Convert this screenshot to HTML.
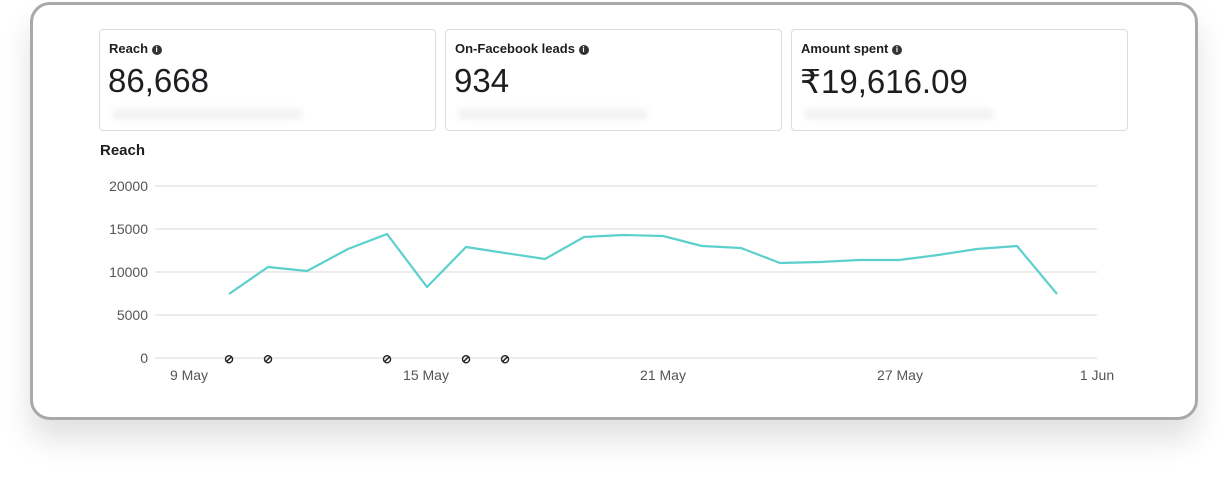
<!DOCTYPE html>
<html><head><style>
body{margin:0;width:1227px;height:479px;background:#fff;font-family:"Liberation Sans",sans-serif;position:relative;overflow:hidden}
.outer{position:absolute;left:30px;top:2px;width:1162px;height:412px;border:3px solid #a9a9a9;border-radius:20px;background:#fff;box-shadow:0 20px 30px rgba(0,0,0,0.12)}
.card{position:absolute;top:29px;width:335px;height:100px;border:1px solid #dcdcdc;border-radius:4px;background:#fff}
.card .t{position:absolute;left:9px;top:11px;font-size:13px;font-weight:bold;color:#1c1e21}
.card .v{position:absolute;left:8px;top:32px;font-size:33px;color:#1c1e21}
.card .b{position:absolute;left:12px;top:78px;width:190px;height:12px;background:#f3f3f3;border-radius:6px;filter:blur(3px)}
.i{display:inline-block;width:10px;height:10px;border-radius:50%;background:#333;color:#fff;font-size:8px;text-align:center;line-height:10px;vertical-align:1px}
svg text{font-family:"Liberation Sans",sans-serif;font-size:14px;fill:#555}
</style></head><body>
<div class="outer"></div>
<div class="card" style="left:99px"><div class="t">Reach <span class="i">i</span></div><div class="v">86,668</div><div class="b"></div></div>
<div class="card" style="left:445px"><div class="t">On-Facebook leads <span class="i">i</span></div><div class="v">934</div><div class="b"></div></div>
<div class="card" style="left:791px"><div class="t">Amount spent <span class="i">i</span></div><div class="v">₹19,616.09</div><div class="b"></div></div>
<div style="position:absolute;left:100px;top:142px;font-size:15px;font-weight:bold;color:#1c1e21">Reach</div>
<svg width="1227" height="479" style="position:absolute;left:0;top:0">
<g stroke="#e6e6e6" stroke-width="1.5">
<line x1="155" x2="1097" y1="186" y2="186"/><line x1="155" x2="1097" y1="229" y2="229"/><line x1="155" x2="1097" y1="272" y2="272"/><line x1="155" x2="1097" y1="315" y2="315"/><line x1="155" x2="1097" y1="358" y2="358"/>
</g>
<g text-anchor="end"><text x="148" y="191">20000</text><text x="148" y="234">15000</text><text x="148" y="277">10000</text><text x="148" y="320">5000</text><text x="148" y="363">0</text></g>
<g text-anchor="middle"><text x="189" y="380">9 May</text><text x="426" y="380">15 May</text><text x="663" y="380">21 May</text><text x="900" y="380">27 May</text><text x="1097" y="380">1 Jun</text></g>
<polyline fill="none" stroke="#5bd0cc" stroke-width="2.2" stroke-linejoin="round" points="229,294 268,267 307,271 348,249 387,234 427,287 466,247 505,253 545,259 584,237 623,235 663,236 702,246 741,248 780,263 820,262 859,260 899,260 938,255 977,249 1017,246 1057,294"/>
<g font-size="12" text-anchor="middle" style="font-weight:bold"><text x="229" y="363" style="fill:#222;font-size:12px">⊘</text><text x="268" y="363" style="fill:#222;font-size:12px">⊘</text><text x="387" y="363" style="fill:#222;font-size:12px">⊘</text><text x="466" y="363" style="fill:#222;font-size:12px">⊘</text><text x="505" y="363" style="fill:#222;font-size:12px">⊘</text></g>
</svg>
</body></html>
